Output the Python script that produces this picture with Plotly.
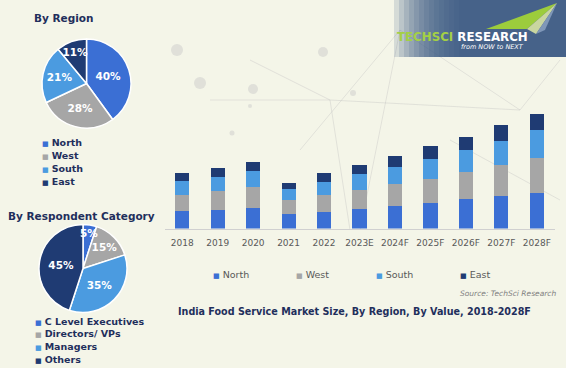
import math
import plotly.graph_objects as go

W, H = 566, 368

# ---------------- data ----------------
years = ["2018", "2019", "2020", "2021", "2022", "2023E", "2024F", "2025F", "2026F", "2027F", "2028F"]
north = [17.6, 19.0, 21.0, 14.3, 16.6, 20.0, 22.6, 26.0, 29.3, 32.3, 35.6]
west = [16.4, 18.6, 20.6, 14.0, 16.7, 19.0, 22.4, 24.0, 27.3, 31.7, 35.4]
south = [13.3, 13.7, 16.0, 11.3, 13.7, 15.3, 16.6, 20.0, 21.7, 24.0, 27.3]
east = [8.3, 9.0, 9.4, 6.0, 8.3, 9.7, 11.4, 12.6, 13.7, 15.6, 16.7]

region_labels = ["North", "West", "South", "East"]
region_share = [40, 28, 21, 11]

respondent_labels = ["C Level Executives", "Directors/ VPs", "Managers", "Others"]
respondent_share = [5, 15, 35, 45]

c_north, c_west, c_south, c_east = "#3b6fd4", "#a6a6a6", "#4b9be0", "#1f3b73"
colors = [c_north, c_west, c_south, c_east]
navy = "#1f2f5c"
FONT = "Verdana, DejaVu Sans"


def px(x):
    return x / W


def py(y):
    return 1 - y / H


fig = go.Figure()

for name, vals, col in zip(region_labels, [north, west, south, east], colors):
    fig.add_trace(go.Bar(x=years, y=vals, name=name, marker_color=col,
                         marker_line_width=0, showlegend=False,
                         xaxis="x", yaxis="y"))

pie_font = dict(family=FONT, size=10.5, color="white", weight="bold")

fig.add_trace(go.Pie(labels=region_labels, values=region_share, sort=False,
                     direction="clockwise", rotation=0,
                     marker=dict(colors=colors, line=dict(color="white", width=1.5)),
                     textinfo="percent", textposition="inside",
                     insidetextorientation="horizontal", textfont=pie_font,
                     domain=dict(x=[px(42), px(131)], y=[py(128), py(39)]),
                     showlegend=False))

# second pie: the tiny first slice gets its label drawn just outside the fit test
pie2_cx, pie2_cy, pie2_r = 83, 268.5, 44
pie2_text = [("" if v < 10 else f"{v}%") for v in respondent_share]
fig.add_trace(go.Pie(labels=respondent_labels, values=respondent_share, sort=False,
                     direction="clockwise", rotation=0,
                     marker=dict(colors=colors, line=dict(color="white", width=1.5)),
                     text=pie2_text, textinfo="text", textposition="inside",
                     insidetextorientation="horizontal", textfont=pie_font,
                     domain=dict(x=[px(pie2_cx - pie2_r), px(pie2_cx + pie2_r)],
                                 y=[py(pie2_cy + pie2_r), py(pie2_cy - pie2_r)]),
                     showlegend=False))

shapes = []
# background network decoration (faint)
net_lines = [((300, 150), (400, 30)), ((400, 30), (520, 110)), ((330, 100), (520, 110)),
             ((210, 100), (330, 100)), ((330, 100), (350, 230)), ((400, 30), (360, 230)),
             ((250, 60), (330, 100)), ((520, 110), (560, 60)), ((450, 140), (560, 200))]
for (x0, y0), (x1, y1) in net_lines:
    shapes.append(dict(type="line", xref="paper", yref="paper", x0=px(x0), y0=py(y0),
                       x1=px(x1), y1=py(y1), line=dict(color="rgba(190,190,190,0.35)", width=1),
                       layer="below"))
for (cx, cy, r) in [(177, 50, 6), (200, 83, 6), (253, 89, 5), (232, 133, 2.5), (323, 52, 5),
                    (353, 93, 3), (250, 106, 2)]:
    shapes.append(dict(type="circle", xref="paper", yref="paper", x0=px(cx - r), x1=px(cx + r),
                       y0=py(cy + r), y1=py(cy - r), fillcolor="rgba(200,200,200,0.45)",
                       line_width=0, layer="below"))

# logo background with fading left edge
for i in range(14):
    x0 = 394 + i * 5
    shapes.append(dict(type="rect", xref="paper", yref="paper", x0=px(x0), x1=px(566),
                       y0=py(57), y1=py(0), fillcolor="rgba(58,86,132,0.16)", line_width=0))


def path(pts):
    return "M " + " L ".join(f"{px(x):.5f},{py(y):.5f}" for x, y in pts) + " Z"


shapes.append(dict(type="path", xref="paper", yref="paper",
                   path=path([(557, 3), (486, 29), (527, 29)]),
                   fillcolor="#9ccc3c", line_width=0))
shapes.append(dict(type="path", xref="paper", yref="paper",
                   path=path([(557, 3), (527, 29), (536, 34)]),
                   fillcolor="#c9d6a0", line_width=0))
shapes.append(dict(type="path", xref="paper", yref="paper",
                   path=path([(557, 3), (536, 34), (545, 30)]),
                   fillcolor="#7f97b8", line_width=0))

ann = []


def note(x, y, text, size, color, xanchor="left", **font_kw):
    ann.append(dict(x=px(x), y=py(y), xref="paper", yref="paper", showarrow=False,
                    xanchor=xanchor, yanchor="middle", text=text,
                    font=dict(family=FONT, size=size, color=color, **font_kw)))


# label of the small slice(s) of pie 2, placed from the data
cum = 0
for v, t in zip(respondent_share, pie2_text):
    if t == "":
        ang = math.radians((cum + v / 2) / sum(respondent_share) * 360)
        rr = pie2_r * 0.82
        note(pie2_cx + rr * math.sin(ang), pie2_cy - rr * math.cos(ang), f"<b>{v}%</b>",
             10.5, "white", xanchor="center")
    cum += v

# Logo text
note(462, 37, "<span style='color:#a4d045'>TECHSCI</span> RESEARCH", 11.8, "white",
     xanchor="center", weight="bold")
note(492, 47, "<i>from NOW to NEXT</i>", 6.5, "white", xanchor="center")

# Pie titles
note(32, 18, "<b>By Region</b>", 10.5, navy)
note(6, 216, "<b>By Respondent Category</b>", 10.5, navy)


def mark(col):
    return f"<span style='color:{col};font-size:7px'>■</span>"


# Pie legends
for i, (lab, col) in enumerate(zip(region_labels, colors)):
    note(40, 142 + 13 * i, f"{mark(col)} <b>{lab}</b>", 9.5, navy)
for i, (lab, col) in enumerate(zip(respondent_labels, colors)):
    note(33, 321 + 12.8 * i, f"{mark(col)} <b>{lab}</b>", 9.5, navy)

# Bar legend
for lab, col, xx in zip(region_labels, colors, [211, 294, 374, 458]):
    note(xx, 274, f"{mark(col)} {lab}", 9.5, "#595959")

# Source and chart title
note(558, 293, "<i>Source: TechSci Research</i>", 7.5, "#7f7f7f", xanchor="right")
note(354.5, 311, "<b>India Food Service Market Size, By Region, By Value, 2018-2028F</b>", 9.6, navy,
     xanchor="center")

fig.update_layout(
    width=W, height=H,
    margin=dict(l=0, r=0, t=0, b=0),
    paper_bgcolor="#f4f5e8",
    plot_bgcolor="rgba(0,0,0,0)",
    barmode="stack",
    bargap=0.6,
    showlegend=False,
    xaxis=dict(domain=[px(164.5), px(554.5)], type="category", showgrid=False,
               showline=True, linecolor="#d0d0d0", linewidth=1,
               ticks="outside", ticklen=6, tickcolor="rgba(0,0,0,0)",
               tickfont=dict(family=FONT, size=9, color="#595959"), fixedrange=True),
    yaxis=dict(domain=[py(228.5), py(98.5)], range=[0, 130], visible=False,
               showgrid=False, fixedrange=True),
    shapes=shapes,
    annotations=ann,
    uniformtext=dict(minsize=10.5, mode="show"),
)

fig.write_html("out.html", config={"displayModeBar": False},
               post_script="document.body.style.margin='0';document.body.style.overflow='hidden';")
